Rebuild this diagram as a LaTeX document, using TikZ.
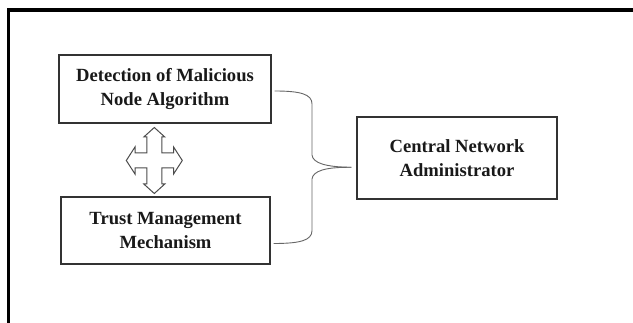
\documentclass[tikz,border=0pt]{standalone}
\usepackage{fontspec}
\setmainfont{Liberation Serif}
\usetikzlibrary{calc}
\begin{document}
\begin{tikzpicture}[x=1pt,y=-1pt,
  blockbox/.style={draw=black!80,line width=1.1pt,fill=white,align=center,
    font=\bfseries\fontsize{18.6}{23.5}\selectfont,text=black!90,inner sep=0pt},
  bracestyle/.style={draw=black!60,line width=0.9pt},
  crossstyle/.style={draw=black!70,line width=1pt,fill=white,line join=miter},
  framestyle/.style={draw=black,line width=3.3pt}]
\useasboundingbox (0,0) rectangle (633,323);
\fill[white] (0,0) rectangle (633,323);
% outer frame (only top and left edges visible)
\draw[framestyle] (633,10) -- (8.3,10) -- (8.3,323);
% boxes
\node[blockbox,minimum width=212pt,minimum height=68pt] (det) at (165,89)
  {Detection of Malicious\\Node Algorithm};
\node[blockbox,minimum width=209pt,minimum height=67pt] (trust) at (165.5,230.5)
  {Trust Management\\Mechanism};
\node[blockbox,minimum width=200pt,minimum height=82pt] (cna) at (457,158)
  {Central Network\\Administrator};
% four-way arrow
\draw[crossstyle,shift={(154.3,160.5)}]
  (0,-33) -- (10.5,-23.5) -- (7.5,-23.5) -- (7.5,-7.5) -- (19.3,-7.5) -- (19.3,-13.5)
  -- (28,0) -- (19.3,13.5) -- (19.3,7.5) -- (7.5,7.5) -- (7.5,23.5) -- (10.5,23.5)
  -- (0,33) -- (-10.5,23.5) -- (-7.5,23.5) -- (-7.5,7.5) -- (-19.3,7.5) -- (-19.3,13.5)
  -- (-28,0) -- (-19.3,-13.5) -- (-19.3,-7.5) -- (-7.5,-7.5) -- (-7.5,-23.5)
  -- (-10.5,-23.5) -- cycle;
% brace
\coordinate (e1) at ($(det.east)+(3,2)$);
\coordinate (e2) at ($(trust.east)+(3,13)$);
\coordinate (tip) at ($(cna.west)+(-5,9.3)$);
\draw[bracestyle] (e1) .. controls (300,91) and (312,94) .. (312,104) -- (312,155)
  .. controls (313,163) and (325,167) .. (tip);
\draw[bracestyle] (e2) .. controls (300,243.5) and (312,240.5) .. (312,230.5) -- (312,179)
  .. controls (313,171) and (325,167) .. (tip);
\end{tikzpicture}
\end{document}
